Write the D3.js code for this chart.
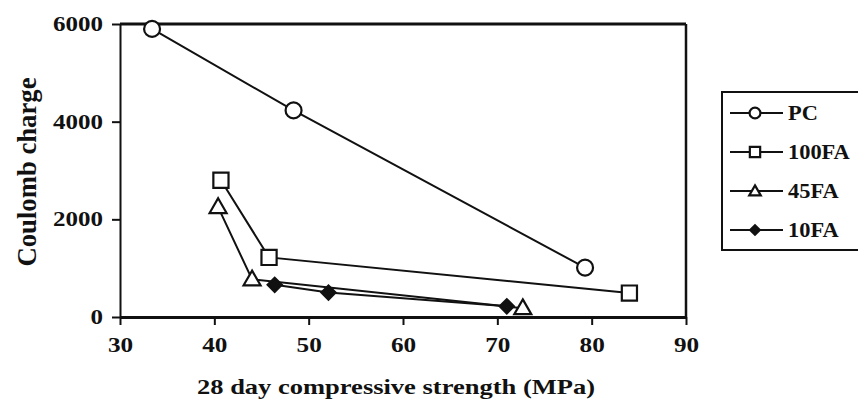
<!DOCTYPE html>
<html>
<head>
<meta charset="utf-8">
<script src="https://cdn.jsdelivr.net/npm/d3@7"></script>
<style>
  html, body { margin: 0; padding: 0; background: #fff; }
  svg { display: block; }
  text { font-family: "Liberation Serif", "Times New Roman", serif; font-weight: bold; fill: #111; }
</style>
</head>
<body>
<svg id="chart" width="858" height="405"></svg>
<script>
// Series: 28-day compressive strength (MPa) vs. Coulomb charge
const seriesNames = ["PC", "100FA", "45FA", "10FA"];
const strengthPC    = [33.4, 48.4, 79.3];
const chargePC      = [5900, 4230, 1010];
const strength100FA = [40.7, 45.8, 84.0];
const charge100FA   = [2800, 1220, 490];
const strength45FA  = [40.4, 44.0, 72.7];
const charge45FA    = [2250, 770, 180];
const strength10FA  = [46.4, 52.1, 71.0];
const charge10FA    = [660, 500, 220];

const xTicks = [30, 40, 50, 60, 70, 80, 90];
const yTicks = [0, 2000, 4000, 6000];

const series = [
  { name: seriesNames[0], xs: strengthPC,    ys: chargePC,    marker: "circle" },
  { name: seriesNames[1], xs: strength100FA, ys: charge100FA, marker: "square" },
  { name: seriesNames[2], xs: strength45FA,  ys: charge45FA,  marker: "triangle" },
  { name: seriesNames[3], xs: strength10FA,  ys: charge10FA,  marker: "diamond" }
];

const svg = d3.select("#chart");
const plotLeft = 120, plotRight = 686, plotTop = 24, plotBottom = 317;

const x = d3.scaleLinear().domain([30, 90]).range([plotLeft, plotRight]);
const y = d3.scaleLinear().domain([0, 6000]).range([plotBottom, plotTop]);

const ink = "#111";

// Widen text glyphs horizontally by a factor
function widen(sel, factor) {
  sel.each(function () {
    const w = this.getComputedTextLength();
    d3.select(this).attr("textLength", w * factor).attr("lengthAdjust", "spacingAndGlyphs");
  });
}

// Marker shapes
function markerPath(kind, scale) {
  const s = scale || 1;
  switch (kind) {
    case "circle":   return d3.symbol(d3.symbolCircle, 200 * s * s)();
    case "square":   return d3.symbol(d3.symbolSquare, 230 * s * s)();
    case "triangle": return d3.symbol(d3.symbolTriangle, 125 * s * s)();
    case "diamond":  return d3.symbol(d3.symbolSquare, 100 * s * s)();
  }
}
function drawMarker(g, kind, cx, cy, scale) {
  const p = g.append("path")
    .attr("d", markerPath(kind, scale))
    .attr("stroke", ink)
    .attr("stroke-width", 2.2)
    .attr("fill", kind === "diamond" ? ink : "#fff");
  let t = `translate(${cx},${cy})`;
  if (kind === "diamond") t += " rotate(45)";
  if (kind === "triangle") t += " translate(0,1)";
  p.attr("transform", t);
}

// Frame: top and right borders
svg.append("line").attr("x1", plotLeft).attr("x2", plotRight).attr("y1", plotTop).attr("y2", plotTop)
  .attr("stroke", ink).attr("stroke-width", 3);
svg.append("line").attr("x1", plotRight).attr("x2", plotRight).attr("y1", plotTop).attr("y2", plotBottom)
  .attr("stroke", ink).attr("stroke-width", 2.5);

// Axes
const xAxis = d3.axisBottom(x).tickValues(xTicks).tickFormat(d3.format("d"))
  .tickSize(8).tickSizeOuter(0).tickPadding(12);
const yAxis = d3.axisLeft(y).tickValues(yTicks).tickFormat(d3.format("d"))
  .tickSize(8).tickSizeOuter(0).tickPadding(9);

const gx = svg.append("g").attr("transform", `translate(0,${plotBottom})`).call(xAxis);
gx.attr("font-family", null);
gx.select(".domain").attr("stroke", ink).attr("stroke-width", 3);
gx.selectAll(".tick line").attr("stroke", ink).attr("stroke-width", 2);
gx.selectAll(".tick text").attr("font-size", 21).attr("fill", ink).call(widen, 1.2);

const gy = svg.append("g").attr("transform", `translate(${plotLeft},0)`).call(yAxis);
gy.attr("font-family", null);
gy.select(".domain").attr("stroke", ink).attr("stroke-width", 2);
gy.selectAll(".tick line").attr("stroke", ink).attr("stroke-width", 2);
gy.selectAll(".tick text").attr("font-size", 20).attr("fill", ink).call(widen, 1.25);

// Axis titles
svg.append("text")
  .attr("x", 396).attr("y", 394)
  .attr("text-anchor", "middle")
  .attr("font-size", 22)
  .attr("textLength", 398).attr("lengthAdjust", "spacingAndGlyphs")
  .text("28 day compressive strength (MPa)");

svg.append("text")
  .attr("transform", "translate(36,172) rotate(-90)")
  .attr("text-anchor", "middle")
  .attr("font-size", 27)
  .attr("textLength", 189).attr("lengthAdjust", "spacingAndGlyphs")
  .text("Coulomb charge");

// Lines and markers
const line = d3.line().x(d => x(d[0])).y(d => y(d[1]));
const plot = svg.append("g");
series.forEach(s => {
  const pts = s.xs.map((v, i) => [v, s.ys[i]]);
  plot.append("path").datum(pts)
    .attr("d", line).attr("fill", "none")
    .attr("stroke", ink).attr("stroke-width", 2);
});
series.forEach(s => {
  s.xs.forEach((v, i) => drawMarker(plot, s.marker, x(v), y(s.ys[i]), 1));
});

// Legend
const legend = svg.append("g");
legend.append("rect")
  .attr("x", 722).attr("y", 92).attr("width", 150).attr("height", 158)
  .attr("fill", "#fff").attr("stroke", ink).attr("stroke-width", 2);
series.forEach((s, i) => {
  const ly = 113 + i * 39;
  legend.append("line").attr("x1", 730).attr("x2", 783).attr("y1", ly).attr("y2", ly)
    .attr("stroke", ink).attr("stroke-width", 2.2);
  drawMarker(legend, s.marker, 755, ly, 0.68);
  legend.append("text").attr("x", 788).attr("y", ly + 7)
    .attr("font-size", 20).text(s.name).call(widen, 1.12);
});
</script>
</body>
</html>
